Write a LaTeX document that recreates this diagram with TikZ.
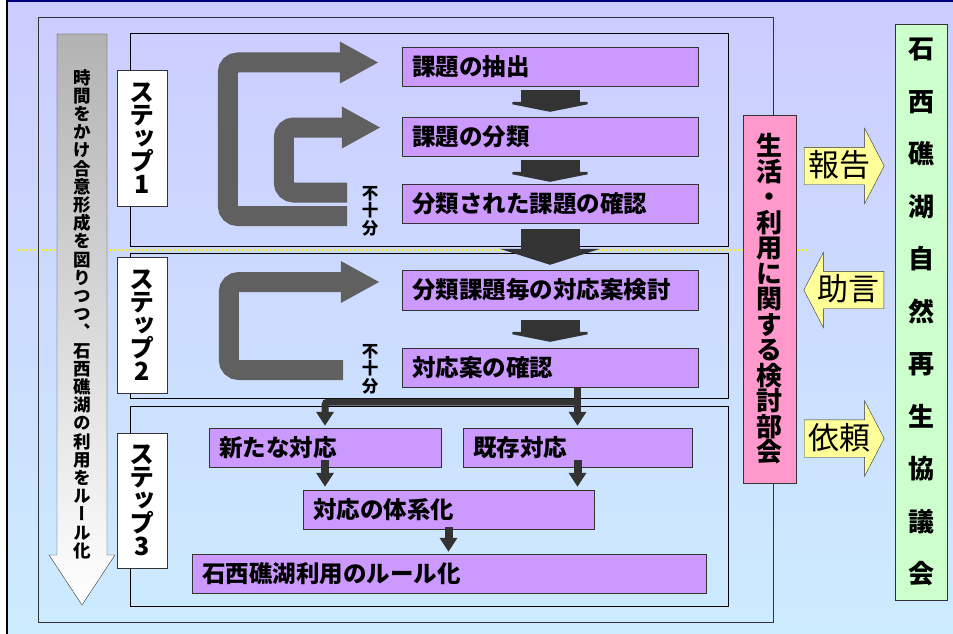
\documentclass[tikz,border=0pt]{standalone}
\usepackage{fontspec}
\usepackage{tikz}
\usetikzlibrary{arrows.meta,shapes.arrows}
\newfontfamily\jp{Noto Sans CJK JP}
\newfontfamily\jpv[RawFeature=+vert]{Noto Sans CJK JP}
\definecolor{bgtop}{RGB}{204,204,255}
\definecolor{bgbot}{RGB}{204,236,255}
\definecolor{taskfill}{RGB}{204,153,255}
\definecolor{cmtfill}{RGB}{255,153,204}
\definecolor{cncfill}{RGB}{204,255,204}
\definecolor{advfill}{RGB}{255,255,153}
\definecolor{loopgray}{RGB}{96,96,96}
\definecolor{flowgray}{RGB}{51,51,51}
\definecolor{navyline}{RGB}{0,0,128}
\makeatletter
% one character per line, for the vertical labels
\newcommand\tatestack[1]{\vbox{\lineskiplimit=-\maxdimen\lineskip=0pt
  \@tfor\tate@c:=#1\do{\hbox to 1em{\hss\tate@c\hss}}}}
\makeatother

\begin{document}
\begin{tikzpicture}[
		x=1pt, y=-1pt,
		frame/.style={draw=flowgray, line width=0.8pt},
		task/.style={draw=flowgray, fill=taskfill, minimum height=39pt, inner xsep=10pt, align=left,
			font=\jp\bfseries\fontsize{23.5}{26}\selectfont},
		stepbox/.style={draw=flowgray, fill=white, minimum width=50pt, minimum height=136pt, inner sep=0pt,
			font=\jpv\bfseries\fontsize{25}{23}\selectfont},
		tate/.style={inner sep=0pt, font=\jpv\bfseries\fontsize{#1}{#1}\selectfont},
		bigarr/.style={flowgray, line width=59pt, -{Triangle[width=100pt, length=#1]}},
		darr/.style={flowgray, line width=8pt, -{Triangle[width=17pt, length=14pt]}},
		loopback/.style={loopgray, line width=20pt, rounded corners=10pt, -{Triangle[width=39pt, length=39pt]}},
		advice/.style={single arrow, draw=flowgray, fill=advfill, single arrow head extend=19pt,
			single arrow tip angle=125, minimum height=80pt, inner xsep=2pt, inner ysep=3pt,
			text height=26pt, text depth=5pt, font=\jp\fontsize{31}{31}\selectfont}
	]
  \useasboundingbox (0,0) rectangle (953,634);
  \fill[top color=bgtop, bottom color=bgbot] (7,1) rectangle (953,634);
  \draw[navyline, line width=2.5pt] (7,1) -- (953,1);
  \draw[black, line width=2pt] (7,0) -- (7,634);
  \draw[yellow, line width=2pt, dash pattern=on 2pt off 2pt] (17,249.5) -- (810,249.5);

  \draw[frame] (38,17) rectangle (773,622);
  \draw[frame, draw=black] (130,33) rectangle (728,246);
  \draw[frame, draw=black] (130,253) rectangle (728,398);
  \draw[frame, draw=black] (130,406) rectangle (728,606);

  \shade[draw=flowgray, top color=black!30, bottom color=white]
    (57,34) -- (107,34) -- (107,555) -- (115,555) -- (82,605) -- (49,555) -- (57,555) -- cycle;
  \node (time) [tate=17, font=\jpv\bfseries\fontsize{17.5}{18.2}\selectfont] at (82,314)
    {\tatestack{時間をかけ合意形成を図りつつ、石西礁湖の利用をルール化}};

  \node (s1) [stepbox] at (142,138) {\tatestack{ステップ1}};
  \node (s2) [stepbox] at (142,325) {\tatestack{ステップ2}};
  \node (s3) [stepbox, minimum height=135pt] at (142,500.5) {\tatestack{ステップ3}};

  \node (ext) [task, text width=276pt] at (550,66.5) {課題の抽出};
  \node (cls) [task, text width=276pt] at (550,136.5) {課題の分類};
  \node (chk1) [task, text width=276pt] at (550,203.5) {分類された課題の確認};
  \node (plan) [task, text width=276pt, minimum height=40pt] at (550,290) {分類課題毎の対応案検討};
  \node (chk2) [task, text width=276pt] at (550,367.5) {対応案の確認};
  \node (new) [task, text width=212pt] at (325,447.5) {新たな対応};
  \node (exist) [task, text width=209pt] at (577.5,447.5) {既存対応};
  \node (sys) [task, text width=271pt] at (448.5,509.5) {対応の体系化};
  \node (rule) [task, text width=494pt] at (449,573.5) {石西礁湖利用のルール化};

  \coordinate (back1) at (347,216);
  \coordinate (back2) at (347,192.5);
  \coordinate (back3) at (343,370);
  \node (ins1) [tate=16, font=\jpv\bfseries\fontsize{16.5}{17.5}\selectfont] at (370,211) {\tatestack{不十分}};
  \node (ins2) [tate=16, font=\jpv\bfseries\fontsize{16.5}{17.5}\selectfont] at (370,369) {\tatestack{不十分}};
  \draw[loopback, shorten >=23pt] (back1) -| ([xshift=-174pt, yshift=4pt]ext.west) -- ([yshift=4pt]ext.west);
  \draw[loopback, shorten >=21pt] (back2) -| ([xshift=-118pt, yshift=9pt]cls.west) -- ([yshift=9pt]cls.west);
  \draw[loopback, shorten >=22pt] (back3) -| ([xshift=-173pt, yshift=8pt]plan.west) -- ([yshift=8pt]plan.west);

  \draw[bigarr=10pt, shorten <=4pt, shorten >=5pt] (ext.south) -- (cls.north);
  \draw[bigarr=10pt, shorten <=4pt, shorten >=2pt] (cls.south) -- (chk1.north);
  \draw[bigarr=16pt, shorten <=6pt, shorten >=5pt] (chk1.south) -- (plan.north);
  \draw[bigarr=10pt, shorten <=10pt, shorten >=6pt] (plan.south) -- (chk2.north);

  \coordinate (fork) at (577.5,402);
  \draw[darr, line width=7pt, shorten >=2pt] (exist.north |- chk2.south) -- (exist.north);
  \draw[darr, line width=7pt, rounded corners=3pt, shorten >=2pt] (fork) -| (new.north);
  \draw[darr, shorten >=3pt] ([yshift=7pt]new.south) -- (new.south |- sys.north);
  \draw[darr, shorten >=3pt] ([yshift=7pt]exist.south) -- (exist.south |- sys.north);
  \draw[darr, shorten >=2pt] ([yshift=2pt]sys.south) -- (sys.south |- rule.north);

  \node (cmte) [draw=flowgray, fill=cmtfill, minimum width=53pt, minimum height=368pt,
    tate=26, font=\jpv\bfseries\fontsize{26}{25.5}\selectfont] at (769.5,299)
    {\tatestack{生活・利用に関する検討部会}};
  \node (cncl) [draw=flowgray, fill=cncfill, minimum width=52pt, minimum height=576pt,
    tate=26, font=\jpv\bfseries\fontsize{26}{52.5}\selectfont] at (921,312)
    {\tatestack{石西礁湖自然再生協議会}};

  \node (rep) [advice, anchor=tail] at (804,166) {報告};
  \node (adv) [advice, shape border rotate=180, anchor=tail] at (884,290) {助言};
  \node (req) [advice, anchor=tail] at (804,438.5) {依頼};
\end{tikzpicture}
\end{document}
